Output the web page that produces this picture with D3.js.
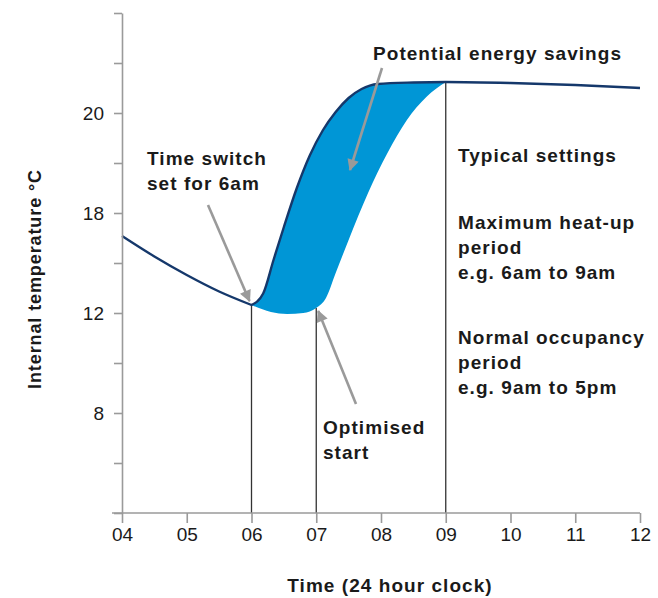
<!DOCTYPE html>
<html>
<head>
<meta charset="utf-8">
<script src="https://cdn.jsdelivr.net/npm/d3@7"></script>
<style>
body { margin: 0; background: #fff; }
text { font-family: "Liberation Sans", Arial, sans-serif; }
.note { font-weight: bold; font-size: 19px; letter-spacing: 1.05px; fill: #1a1a1a; }
</style>
</head>
<body>
<div id="chart"></div>
<script>
// x in hours, y in axis units (ticks are evenly spaced, labels as printed)
const xTicks = [4, 5, 6, 7, 8, 9, 10, 11, 12]
const xTickLabels = ["04", "05", "06", "07", "08", "09", "10", "11", "12"]
const yTicks = [0, 1, 2, 3, 4, 5, 6, 7, 8, 9, 10]
const yTickLabels = ["", "", "8", "", "12", "", "18", "", "20", "", ""]

// cooling down overnight until the 6am time switch
const coolX = [4.0, 4.5, 5.0, 5.5, 6.0]
const coolY = [5.54, 5.13, 4.76, 4.43, 4.16]

// fixed 6am start heat-up, then occupancy period
const heatX = [6.0, 6.18, 6.34, 6.5, 6.7, 6.9, 7.1, 7.3, 7.5, 7.7, 7.95, 8.5, 9.0, 10, 11, 12]
const heatY = [4.16, 4.39, 5.06, 5.72, 6.5, 7.15, 7.65, 8.02, 8.3, 8.48, 8.58, 8.61, 8.62, 8.6, 8.56, 8.5]

// optimised start curve (lower edge of the savings area)
const optX = [6.0, 6.3, 6.55, 6.8, 7.0, 7.15, 7.3, 7.5, 7.8, 8.1, 8.4, 8.7, 9.0]
const optY = [4.16, 4.02, 3.98, 4.0, 4.1, 4.3, 4.8, 5.46, 6.4, 7.2, 7.86, 8.32, 8.62]

const markers = [6, 7, 9]

const width = 658, height = 598

const svg = d3.select("#chart").append("svg")
    .attr("width", width)
    .attr("height", height)

const x = d3.scaleLinear().domain([4, 12]).range([122, 640])
const y = d3.scaleLinear().domain([0, 10]).range([513, 13])

const curve = d3.curveMonotoneX
const line = d3.line().x(d => x(d[0])).y(d => y(d[1])).curve(curve)

const coolPts = coolX.map((v, i) => [v, coolY[i]])
const heatPts = heatX.map((v, i) => [v, heatY[i]])
const optPts = optX.map((v, i) => [v, optY[i]])

// savings area between the two heat-up curves
const upperPath = line(heatPts.filter(d => d[0] <= 9))
const lowerPath = line(optPts.slice().reverse())
svg.append("path")
    .attr("d", upperPath + "L" + lowerPath.slice(1) + "Z")
    .attr("fill", "#0096d6")

// vertical marker lines
svg.selectAll(".marker")
    .data(markers)
    .enter()
    .append("line")
    .attr("x1", d => x(d)).attr("x2", d => x(d))
    .attr("y1", d => y(d == 7 ? optY[optX.indexOf(7)] : heatY[heatX.indexOf(d)]))
    .attr("y2", y(0))
    .attr("stroke", "#333")
    .attr("stroke-width", 1.3)

// temperature line: corner at the 6am switch
svg.append("path")
    .attr("d", line(coolPts) + "L" + line(heatPts).slice(1))
    .attr("fill", "none")
    .attr("stroke", "#15386b")
    .attr("stroke-width", 2.4)
    .attr("stroke-linejoin", "round")

// axes
const xAxis = svg.append("g")
    .attr("transform", `translate(0,${y(0)})`)
    .call(d3.axisBottom(x).tickValues(xTicks).tickFormat((d, i) => xTickLabels[i]).tickSize(10).tickSizeOuter(0).tickPadding(5))
xAxis.select(".domain").attr("d", `M112,0H${x(12)}`)

const yAxis = svg.append("g")
    .attr("transform", `translate(${x(4)},0)`)
    .call(d3.axisLeft(y).tickValues(yTicks).tickFormat((d, i) => yTickLabels[i]).tickSize(8).tickSizeOuter(0).tickPadding(10))

svg.selectAll(".domain, .tick line").attr("stroke", "#9a9a9a").attr("stroke-width", 1.6)
svg.selectAll(".tick text").attr("font-size", 19).attr("fill", "#1a1a1a")
    .attr("font-family", "Liberation Sans, Arial, sans-serif")
xAxis.selectAll(".tick").filter(d => d == 4).select("line").attr("y1", 0)

// axis titles
svg.append("text")
    .attr("class", "note")
    .attr("x", 390).attr("y", 592)
    .attr("text-anchor", "middle")
    .text("Time (24 hour clock)")
svg.append("text")
    .attr("class", "note")
    .attr("transform", "translate(41,279) rotate(-90)")
    .attr("text-anchor", "middle")
    .style("font-size", "18px")
    .style("letter-spacing", "0.9px")
    .text("Internal temperature °C")

// arrows
const defs = svg.append("defs")
defs.append("marker")
    .attr("id", "head")
    .attr("viewBox", "0 0 10 10")
    .attr("refX", 9).attr("refY", 5)
    .attr("markerWidth", 5).attr("markerHeight", 4.5)
    .attr("orient", "auto")
    .append("path")
    .attr("d", "M0,0L10,5L0,10Z")
    .attr("fill", "#9a9a9a")

const arrows = [
    [208, 205, x(6) - 2, y(4.16) - 4],
    [382, 68, 350, 170],
    [356, 404, x(7) + 2, y(4.1) + 3]
]
svg.selectAll(".arrow")
    .data(arrows)
    .enter()
    .append("line")
    .attr("x1", d => d[0]).attr("y1", d => d[1])
    .attr("x2", d => d[2]).attr("y2", d => d[3])
    .attr("stroke", "#9a9a9a")
    .attr("stroke-width", 2.6)
    .attr("marker-end", "url(#head)")

// notes
const notes = [
    [373, 60, ["Potential energy savings"]],
    [147, 165, ["Time switch", "set for 6am"]],
    [458, 162, ["Typical settings"]],
    [458, 229, ["Maximum heat-up", "period", "e.g. 6am to 9am"]],
    [458, 344, ["Normal occupancy", "period", "e.g. 9am to 5pm"]],
    [323, 434, ["Optimised", "start"]]
]
notes.forEach(n => {
    const t = svg.append("text").attr("class", "note")
    n[2].forEach((s, i) => {
        t.append("tspan").attr("x", n[0]).attr("y", n[1] + i * 24.8).text(s)
    })
})
</script>
</body>
</html>
